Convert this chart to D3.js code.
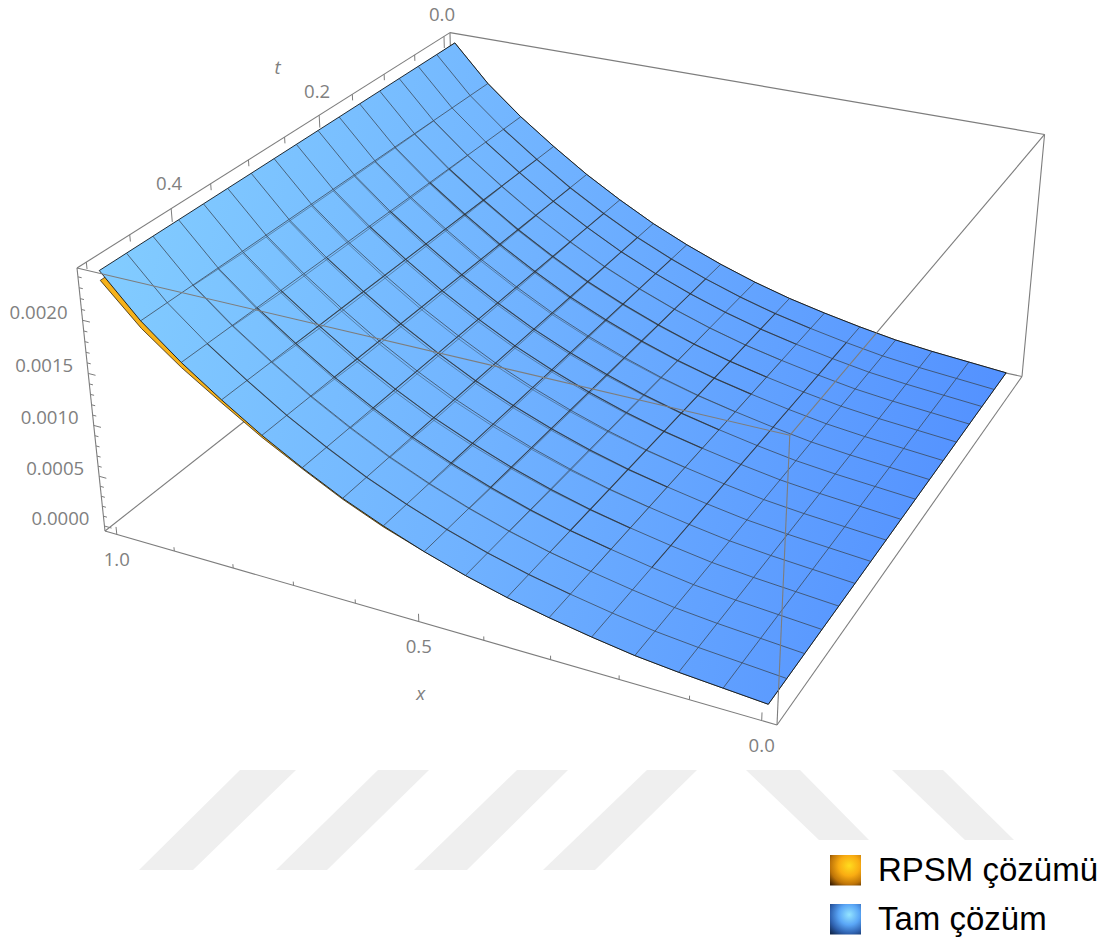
<!DOCTYPE html>
<html>
<head>
<meta charset="utf-8">
<script src="https://cdn.jsdelivr.net/npm/d3@7"></script>
<style>
  html, body { margin: 0; padding: 0; background: #fff; }
  svg { display: block; }
</style>
</head>
<body>
<div id="svg-container"></div>
<script>
// mesh positions of the surface, 16 cells each way
const xValues = [1, 0.9375, 0.875, 0.8125, 0.75, 0.6875, 0.625, 0.5625, 0.5, 0.4375, 0.375, 0.3125, 0.25, 0.1875, 0.125, 0.0625, 0];
const tValues = [0, 0.03125, 0.0625, 0.09375, 0.125, 0.15625, 0.1875, 0.21875, 0.25, 0.28125, 0.3125, 0.34375, 0.375, 0.40625, 0.4375, 0.46875, 0.5];

// exact solution, read along the surface edges (barely changes with t)
const zExact = [0.00243, 0.00205, 0.00175, 0.00149, 0.00125, 0.00104, 0.00085, 0.00069, 0.00055, 0.00043, 0.00033, 0.00025, 0.00018, 0.00012, 0.00008, 0.00005, 0.00002];
// RPSM solution along the t = 0.5 edge, only visible as the orange strip
const zRpsmFront = [0.00234, 0.00198, 0.00170, 0.00146, 0.00123, 0.00103, 0.00084, 0.00068, 0.00055, 0.00043, 0.00033, 0.00025, 0.00018, 0.00012, 0.00008, 0.00005, 0.00002];

// gap between the two meshes where both show through (doubled lines)
const meshGapX = [0, 0.6, 0.8, 1, 1, 1, 0.9, 0.8, 0.6, 0.4, 0.2, 0.1, 0, 0, 0, 0, 0];
const meshGapT = [0, 0, 0, 0.000006, 0.000012, 0.000018, 0.000022, 0.000025, 0.000028, 0.00003, 0.00003, 0.00003, 0.00003, 0.00002, 0.00001, 0, 0];

// which mesh lines look heavy in the picture
const heavyX = [0, 0, 0, 1, 1, 1, 1, 1, 1, 0, 1, 0, 1, 0, 0, 0, 0];
const heavyT = [0, 1, 1, 0, 1, 1, 0, 1, 1, 0, 1, 0, 1, 1, 0, 1, 0];

// axis ticks
const xMajor = [0, 0.5, 1];
const xMinor = [0.1, 0.2, 0.3, 0.4, 0.6, 0.7, 0.8, 0.9];
const xLabels = ['0.0', '0.5', '1.0'];
const tMajor = [0, 0.2, 0.4];
const tMinor = [0.05, 0.1, 0.15, 0.25, 0.3, 0.35, 0.45, 0.5];
const tLabels = ['0.0', '0.2', '0.4'];
const zMajor = [0, 0.0005, 0.001, 0.0015, 0.002];
const zMinor = [0.0001, 0.0002, 0.0003, 0.0004, 0.0006, 0.0007, 0.0008, 0.0009, 0.0011, 0.0012, 0.0013, 0.0014, 0.0016, 0.0017, 0.0018, 0.0019, 0.0021, 0.0022, 0.0023, 0.0024];
const zLabels = ['0.0000', '0.0005', '0.0010', '0.0015', '0.0020'];

const legendNames = ['RPSM çözümü', 'Tam çözüm'];

// Camera (configurable): image of the box corner and its three neighbours + foreshortening
const input_params = {
    width: 1106,
    height: 947,
    origin: [105, 531],
    cornerX: [777, 725],
    cornerT: [456, 255],
    cornerZ: [77, 268],
    persp: { x: -0.124, t: 0.241, z: -0.055 },
    boxColor: '#7d7d7d',
    labelColor: '#808080',
    labelFont: '"Open Sans", sans-serif',
};

// data values to box coordinates (2% padding on every side)
const xScale = d3.scaleLinear().domain([1, 0]).range([0.02, 0.98]);
const tScale = d3.scaleLinear().domain([0.5, 0]).range([0.02, 0.98]);
const zScale = d3.scaleLinear().domain([0, 0.00243]).range([0.02, 0.98]);

// box coordinates to screen, a plain projective map
const boxPoint = (u, v, w) => {
    const { origin: o, cornerX: a, cornerT: b, cornerZ: c, persp: p } = input_params;
    const d = 1 + p.x * u + p.t * v + p.z * w;
    return [0, 1].map(k => (o[k]
        + u * ((1 + p.x) * a[k] - o[k])
        + v * ((1 + p.t) * b[k] - o[k])
        + w * ((1 + p.z) * c[k] - o[k])) / d);
};
const project = (x, t, z) => boxPoint(xScale(x), tScale(t), zScale(z));

const line = d3.line();

const svg = d3.select('#svg-container')
    .append('svg')
    .attr('width', input_params.width)
    .attr('height', input_params.height);

const defs = svg.append('defs');

// surface shading runs from light blue on the left to stronger blue on the right
const surfaceGrad = defs.append('linearGradient')
    .attr('id', 'surface-fill')
    .attr('gradientUnits', 'userSpaceOnUse')
    .attr('x1', 100).attr('y1', 280)
    .attr('x2', 1000).attr('y2', 500);
[['0%', '#82CCFF'], ['45%', '#70B2FF'], ['100%', '#5290FF']].forEach(s => {
    surfaceGrad.append('stop').attr('offset', s[0]).attr('stop-color', s[1]);
});

const swatchStops = [
    [['0%', '#FFDC1E'], ['40%', '#F9AC12'], ['72%', '#BE7408'], ['100%', '#3E2002']],
    [['0%', '#93E4FF'], ['40%', '#5AA6F6'], ['72%', '#2F62B0'], ['100%', '#12294F']]
];
swatchStops.forEach((stops, i) => {
    const g = defs.append('radialGradient')
        .attr('id', `swatch-${i}`)
        .attr('cx', '0.62').attr('cy', '0.35').attr('r', '0.85');
    stops.forEach(s => g.append('stop').attr('offset', s[0]).attr('stop-color', s[1]));
});

// watermark behind everything
const watermark = [
    [[240, 770], [296, 770], [193, 870], [139, 870]],
    [[378, 770], [429, 770], [327, 870], [276, 870]],
    [[517, 770], [568, 770], [467, 870], [414, 870]],
    [[647, 770], [697, 770], [595, 870], [543, 870]],
    [[746, 770], [800, 770], [869, 840], [819, 840]],
    [[892, 770], [943, 770], [1014, 840], [965, 840]]
];
svg.append('g').attr('class', 'watermark')
    .selectAll('path').data(watermark).enter().append('path')
    .attr('d', d => line(d) + 'Z')
    .attr('fill', '#EFEFEF');

// box edges, those behind the surface go first
const edge = (g, a, b) => g.append('path')
    .attr('d', line([boxPoint(...a), boxPoint(...b)]))
    .attr('fill', 'none')
    .attr('stroke', input_params.boxColor)
    .attr('stroke-width', 1.1);

const backEdges = svg.append('g').attr('class', 'back-edges');
[[[0, 0, 0], [0, 1, 0]], [[0, 1, 0], [1, 1, 0]], [[0, 1, 0], [0, 1, 1]]].forEach(e => edge(backEdges, e[0], e[1]));

// RPSM surface, sticks out below the exact one at the t = 0.5 edge
const rpsmOutline = [
    ...xValues.map((x, i) => project(x, 0.5, zRpsmFront[i])),
    ...xValues.slice().reverse().map((x, i) => project(x, 0, zExact[16 - i]))
];
svg.append('path')
    .attr('class', 'rpsm-surface')
    .attr('d', line(rpsmOutline) + 'Z')
    .attr('fill', '#F6B21B')
    .attr('stroke', '#1a1000')
    .attr('stroke-width', 0.7);

// exact surface
const surfaceOutline = [
    ...tValues.map(t => project(1, t, zExact[0])),
    ...xValues.map((x, i) => project(x, 0.5, zExact[i])),
    ...tValues.slice().reverse().map(t => project(0, t, zExact[16])),
    ...xValues.slice().reverse().map((x, i) => project(x, 0, zExact[16 - i]))
];
svg.append('path')
    .attr('class', 'surface')
    .attr('d', line(surfaceOutline) + 'Z')
    .attr('fill', 'url(#surface-fill)');

// second mesh slightly below the first one
const ghost = svg.append('g').attr('class', 'ghost-mesh')
    .attr('fill', 'none')
    .attr('stroke', '#46627e')
    .attr('stroke-width', 0.8)
    .attr('stroke-opacity', 0.8);
const ghostLine = d3.line().defined(d => d[2] > 0);
tValues.forEach((t, j) => {
    if (meshGapT[j] === 0) return;
    const pts = xValues.map((x, i) => [...project(x, t, zExact[i] - meshGapT[j] * meshGapX[i]), meshGapX[i]]);
    ghost.append('path').attr('d', ghostLine(pts));
});
xValues.forEach((x, i) => {
    if (meshGapX[i] === 0) return;
    const pts = tValues.map((t, j) => [...project(x, t, zExact[i] - meshGapT[j] * meshGapX[i]), meshGapT[j]]);
    ghost.append('path').attr('d', ghostLine(pts));
});

// mesh of the exact surface: thin lines everywhere
const mesh = svg.append('g').attr('class', 'mesh').attr('fill', 'none')
    .attr('stroke', '#3a4654')
    .attr('stroke-width', 0.9)
    .attr('stroke-opacity', 0.85);
tValues.slice(1, -1).forEach(t => {
    mesh.append('path').attr('d', line(xValues.map((x, i) => project(x, t, zExact[i]))));
});
xValues.slice(1, -1).forEach((x, i) => {
    mesh.append('path').attr('d', line(tValues.map(t => project(x, t, zExact[i + 1]))));
});

// darker runs where both meshes land on the same pixels, they fade out towards x = 0
const heavy = svg.append('g').attr('class', 'mesh-heavy').attr('fill', 'none')
    .attr('stroke', '#262626')
    .attr('stroke-width', 1.1)
    .attr('stroke-opacity', 0.55);
tValues.forEach((t, j) => {
    if (!heavyT[j]) return;
    heavy.append('path').attr('d', line(xValues.slice(2, 12).map((x, i) => project(x, t, zExact[i + 2]))));
});
xValues.forEach((x, i) => {
    if (!heavyX[i]) return;
    heavy.append('path').attr('d', line(tValues.slice(1, 14).map(t => project(x, t, zExact[i]))));
});

svg.append('path')
    .attr('class', 'surface-edge')
    .attr('d', line(surfaceOutline) + 'Z')
    .attr('fill', 'none')
    .attr('stroke', '#10161c')
    .attr('stroke-width', 0.9);

// remaining box edges, also the three that cross the surface
const frontEdges = svg.append('g').attr('class', 'front-edges');
[
    [[0, 0, 0], [1, 0, 0]], [[1, 0, 0], [1, 1, 0]], [[1, 1, 0], [1, 1, 1]],
    [[0, 0, 0], [0, 0, 1]], [[0, 0, 1], [0, 1, 1]], [[0, 1, 1], [1, 1, 1]],
    [[0, 0, 1], [1, 0, 1]], [[1, 1, 1], [1, 0, 1]], [[1, 0, 1], [1, 0, 0]]
].forEach(e => edge(frontEdges, e[0], e[1]));

// ticks
const ticks = svg.append('g').attr('class', 'ticks')
    .attr('fill', 'none')
    .attr('stroke', input_params.boxColor)
    .attr('stroke-width', 1);
const tick = (from, to) => ticks.append('path').attr('d', line([boxPoint(...from), boxPoint(...to)]));

xMajor.forEach(x => tick([xScale(x), 0, 0], [xScale(x), 0, 0.03]));
xMinor.forEach(x => tick([xScale(x), 0, 0], [xScale(x), 0, 0.015]));
tMajor.forEach(t => tick([0, tScale(t), 1], [0, tScale(t), 0.95]));
tMinor.forEach(t => tick([0, tScale(t), 1], [0, tScale(t), 0.975]));
zMajor.forEach(z => tick([0, 0, zScale(z)], [0.012, 0, zScale(z)]));
zMinor.forEach(z => tick([0, 0, zScale(z)], [0.006, 0, zScale(z)]));

// tick labels
const labels = svg.append('g').attr('class', 'labels')
    .attr('font-family', input_params.labelFont)
    .attr('font-size', 18.6)
    .attr('fill', input_params.labelColor);
const label = (p, dx, dy, anchor, text) => labels.append('text')
    .attr('x', p[0] + dx)
    .attr('y', p[1] + dy)
    .attr('dy', '0.36em')
    .attr('text-anchor', anchor)
    .text(text);

xMajor.forEach((x, i) => label(boxPoint(xScale(x), 0, 0), 0, 25, 'middle', xLabels[i]));
tMajor.forEach((t, i) => label(boxPoint(0, tScale(t), 1), -2, -22 - 7 * t, 'middle', tLabels[i]));
zMajor.forEach((z, i) => label(boxPoint(0, 0, zScale(z)), -15, -8, 'end', zLabels[i]));

// axis names sit halfway along the axes
label(boxPoint(xScale(0.5), 0, 0), 2, 72, 'middle', 'x').attr('font-style', 'italic');
label(boxPoint(0, tScale(0.25), 1), -7, -70, 'middle', 't').attr('font-style', 'italic');

// legend
const legend = svg.append('g').attr('class', 'legend').attr('transform', 'translate(830, 855)');
legendNames.forEach((name, i) => {
    const row = legend.append('g').attr('transform', `translate(0, ${i * 49})`);
    row.append('rect')
        .attr('width', 31)
        .attr('height', 30.5)
        .attr('fill', `url(#swatch-${i})`);
    row.append('text')
        .attr('x', 48)
        .attr('y', 26)
        .attr('font-family', '"Liberation Sans", Arial, sans-serif')
        .attr('font-size', 33)
        .attr('fill', '#000')
        .text(name);
});
</script>
</body>
</html>
